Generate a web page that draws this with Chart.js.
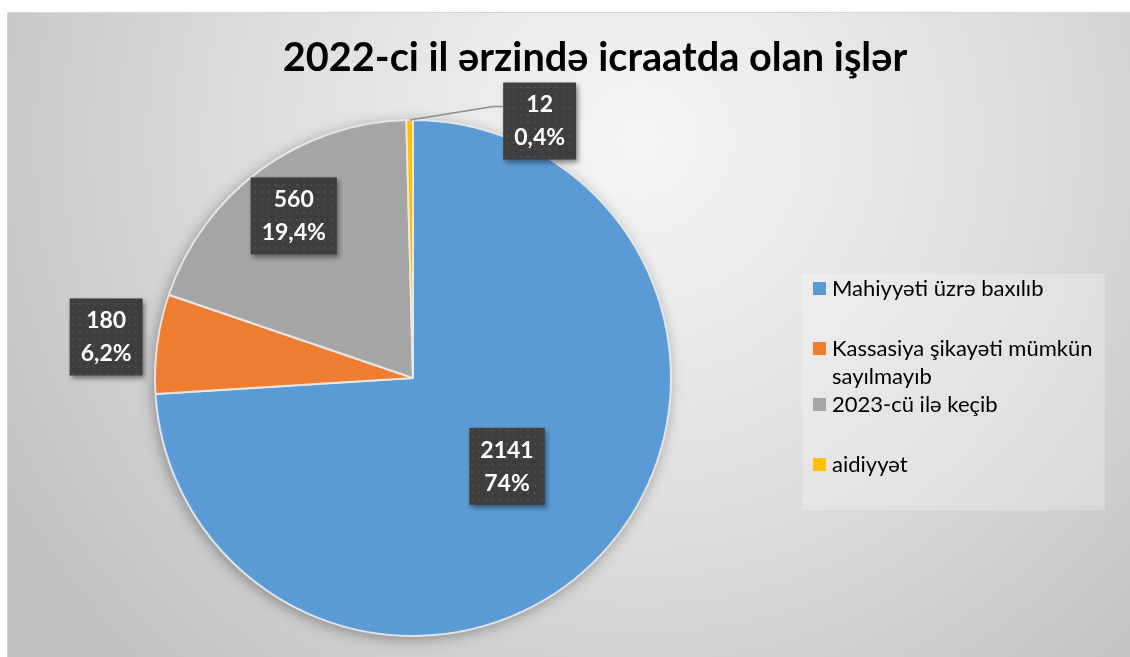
<!DOCTYPE html>
<html>
<head>
<meta charset="utf-8">
<script src="https://cdn.jsdelivr.net/npm/chart.js@4.4.1/dist/chart.umd.min.js"></script>
<style>
  html, body { margin: 0; padding: 0; background: #fff; }
  canvas { display: block; }
</style>
</head>
<body>
<canvas id="myChart" width="1130" height="657"></canvas>
<script>
// chart data
const chartTitle = '2022-ci il ərzində icraatda olan işlər';
const categories = ['Mahiyyəti üzrə baxılıb', 'Kassasiya şikayəti mümkün sayılmayıb', '2023-cü ilə keçib', 'aidiyyət'];
const counts = [2141, 180, 560, 12];
const colours = ['#5b9bd5', '#ed7d31', '#a5a5a5', '#ffc000'];

const total = counts.reduce((a, b) => a + b, 0);
const FONT = 'Lato, "Open Sans", sans-serif';

function pctText(v) {
  const p = Math.round(v / total * 1000) / 10;
  return String(p).replace('.', ',') + '%';
}

// dotted dark fill for the data label boxes
const tile = document.createElement('canvas');
tile.width = 7; tile.height = 7;
const tctx = tile.getContext('2d');
tctx.fillStyle = '#3e3e3e';
tctx.fillRect(0, 0, 7, 7);
tctx.fillStyle = '#4b4b4b';
tctx.fillRect(2, 2, 2, 2);

// where each label sits: fraction of radius along the slice middle, or a callout
const labelSpots = [
  { r: 0.5 },
  { r: 1.2 },
  { r: 0.78 },
  { callout: true, dx: 130, dy: 1 }
];

function drawBox(c, cx, cy, lines) {
  c.save();
  c.font = 'bold 23px ' + FONT;
  const w = Math.max(...lines.map(s => c.measureText(s).width)) + 22;
  const h = 77;
  const x = cx - w / 2, y = cy - h / 2;
  c.shadowColor = 'rgba(0,0,0,0.45)';
  c.shadowBlur = 5;
  c.shadowOffsetX = 2;
  c.shadowOffsetY = 3;
  c.fillStyle = c.createPattern(tile, 'repeat');
  c.fillRect(x, y, w, h);
  c.shadowColor = 'transparent';
  c.fillStyle = '#ffffff';
  c.textAlign = 'center';
  c.textBaseline = 'middle';
  c.fillText(lines[0], cx, cy - 16);
  c.fillText(lines[1], cx, cy + 17);
  c.restore();
  return { x, y, w, h };
}

function wrapText(c, text, maxW) {
  const words = text.split(' ');
  const out = [];
  let line = '';
  words.forEach(w => {
    const test = line ? line + ' ' + w : w;
    if (c.measureText(test).width > maxW && line) { out.push(line); line = w; }
    else line = test;
  });
  out.push(line);
  return out;
}

const decor = {
  id: 'decor',
  beforeDraw(chart) {
    const c = chart.ctx;
    const W = chart.width, H = chart.height;
    c.save();
    c.fillStyle = '#ffffff';
    c.fillRect(0, 0, W, H);
    const g = c.createRadialGradient(640, 140, 0, 640, 140, 720);
    g.addColorStop(0, '#f5f5f5');
    g.addColorStop(0.55, '#dcdcdc');
    g.addColorStop(1, '#c2c2c2');
    c.fillStyle = g;
    c.fillRect(7, 12, W - 7, H - 12);
    c.strokeStyle = '#d6d6d6';
    c.lineWidth = 1;
    c.strokeRect(7.5, 12.5, W, H);

    // title
    let size = 36;
    c.font = 'bold ' + size + 'px ' + FONT;
    size = size * 624 / c.measureText(chartTitle).width;
    c.font = 'bold ' + size.toFixed(1) + 'px ' + FONT;
    c.fillStyle = '#000000';
    c.textAlign = 'center';
    c.textBaseline = 'middle';
    c.fillText(chartTitle, 595, 58);
    c.restore();
  },
  beforeDatasetsDraw(chart) {
    const arc = chart.getDatasetMeta(0).data[0];
    const c = chart.ctx;
    c.save();
    c.shadowColor = 'rgba(0,0,0,0.35)';
    c.shadowBlur = 14;
    c.shadowOffsetX = -2;
    c.shadowOffsetY = 3;
    c.fillStyle = '#c8c8c8';
    c.beginPath();
    c.arc(arc.x, arc.y, arc.outerRadius, 0, Math.PI * 2);
    c.fill();
    c.restore();
  },
  afterDatasetsDraw(chart) {
    const c = chart.ctx;
    const arcs = chart.getDatasetMeta(0).data;

    arcs.forEach((a, i) => {
      const mid = (a.startAngle + a.endAngle) / 2;
      const spot = labelSpots[i];
      const lines = [String(counts[i]), pctText(counts[i])];
      if (spot.callout) {
        const ox = a.x + Math.cos(mid) * a.outerRadius;
        const oy = a.y + Math.sin(mid) * a.outerRadius;
        const box = drawBox(c, ox + spot.dx, oy + spot.dy, lines);
        c.save();
        c.strokeStyle = '#8c8c8c';
        c.lineWidth = 1.5;
        c.beginPath();
        c.moveTo(ox, oy);
        c.lineTo(box.x - 10, box.y + 24);
        c.lineTo(box.x, box.y + 24);
        c.stroke();
        c.restore();
      } else {
        const r = a.outerRadius * spot.r;
        drawBox(c, a.x + Math.cos(mid) * r, a.y + Math.sin(mid) * r, lines);
      }
    });

    // legend
    c.save();
    c.fillStyle = 'rgba(255,255,255,0.25)';
    c.fillRect(802, 274, 303, 236);
    c.font = '22px ' + FONT;
    c.textAlign = 'left';
    c.textBaseline = 'middle';
    const rowY = [289, 349, 405, 465];
    categories.forEach((name, i) => {
      const y = rowY[i];
      c.fillStyle = colours[i];
      c.fillRect(813, y - 7, 13, 13);
      c.fillStyle = '#000000';
      wrapText(c, name, 268).forEach((ln, k) => c.fillText(ln, 832, y + k * 28));
    });
    c.restore();
  }
};

const ctx = document.getElementById('myChart');
new Chart(ctx, {
  type: 'pie',
  data: {
    labels: categories,
    datasets: [{
      data: counts,
      backgroundColor: colours,
      borderColor: 'rgba(235,235,235,0.9)',
      borderWidth: 2
    }]
  },
  options: {
    responsive: false,
    animation: false,
    layout: { padding: { left: 154, right: 458, top: 119, bottom: 20 } },
    plugins: {
      legend: { display: false },
      tooltip: { enabled: false },
      title: { display: false }
    }
  },
  plugins: [decor]
});
</script>
</body>
</html>
